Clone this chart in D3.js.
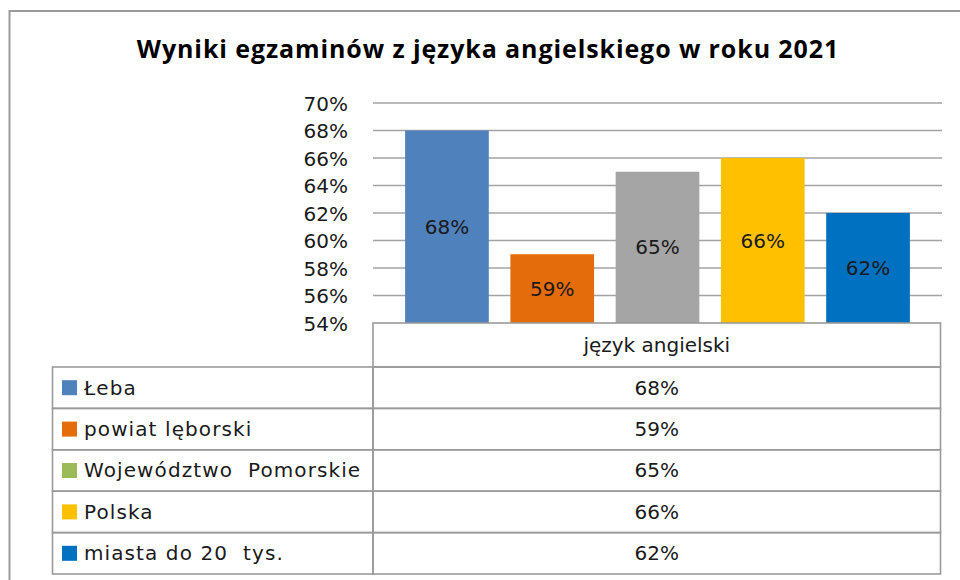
<!DOCTYPE html>
<html><head><meta charset="utf-8">
<script src="https://cdn.jsdelivr.net/npm/d3@7"></script>
<style>body{margin:0;background:#fff}svg{display:block}</style>
</head><body>
<script>
const title = "Wyniki egzaminów z języka angielskiego w roku 2021";
const category = "język angielski";
const seriesNames = ["Łeba", "powiat lęborski", "Województwo Pomorskie", "Polska", "miasta do 20  tys."];
const seriesLegendNames = ["Łeba", "powiat lęborski", "Województwo  Pomorskie", "Polska", "miasta do 20  tys."];
const values = [0.68, 0.59, 0.65, 0.66, 0.62];
const barColors = ["#4F81BD", "#E46C0A", "#A5A5A5", "#FFC000", "#0070C0"];
const legendColors = ["#4F81BD", "#E46C0A", "#9BBB59", "#FFC000", "#0070C0"];
const yTicks = [0.54, 0.56, 0.58, 0.60, 0.62, 0.64, 0.66, 0.68, 0.70];

const W = 960, H = 580;
const svg = d3.select("body").append("svg").attr("width", W).attr("height", H);
const font = "'DejaVu Sans', Verdana, sans-serif";

// outer chart border
svg.append("rect").attr("x", 9.5).attr("y", 11).attr("width", 1000).attr("height", 700)
  .attr("fill", "#fff").attr("stroke", "#9a9a9a").attr("stroke-width", 2);

svg.append("text").attr("x", 488).attr("y", 58).attr("text-anchor", "middle")
  .attr("font-family", "'Open Sans', Lato, sans-serif").attr("font-weight", "bold")
  .attr("font-size", 25).attr("letter-spacing", 0.9).attr("fill", "#000").text(title);

const plotL = 373, plotR = 942, plotT = 103, plotB = 323;
const y = d3.scaleLinear().domain([0.54, 0.70]).range([plotB, plotT]);
const x = d3.scaleBand().domain(seriesNames).range([plotL, plotR]).paddingInner(0.205).paddingOuter(0.305);

// gridlines
svg.append("g").selectAll("line").data(yTicks.slice(1)).join("line")
  .attr("x1", plotL).attr("x2", plotR)
  .attr("y1", d => y(d)).attr("y2", d => y(d))
  .attr("stroke", "#a3a3a3").attr("stroke-width", 1.5);

// y axis labels
const yAxis = d3.axisLeft(y).tickValues(yTicks).tickFormat(d3.format(".0%")).tickSize(0).tickPadding(0);
const ag = svg.append("g").attr("transform", `translate(348,0)`).call(yAxis);
ag.select(".domain").remove();
ag.selectAll("text").attr("font-family", font).attr("font-size", 20).attr("fill", "#1a1a1a").attr("dy", "0.35em");

// bars
svg.append("g").selectAll("rect").data(values).join("rect")
  .attr("x", (d, i) => x(seriesNames[i])).attr("width", x.bandwidth())
  .attr("y", d => y(d)).attr("height", d => plotB - y(d))
  .attr("fill", (d, i) => barColors[i]);

svg.append("g").selectAll("text").data(values).join("text")
  .attr("x", (d, i) => x(seriesNames[i]) + x.bandwidth() / 2)
  .attr("y", d => (y(d) + plotB) / 2).attr("dy", "0.35em")
  .attr("text-anchor", "middle").attr("font-family", font).attr("font-size", 20)
  .attr("fill", "#1a1a1a").text(d => d3.format(".0%")(d));

// data table
const tL = 52.5, tM = 373, tR = 940.5, headT = 323, headB = 367;
const rowH = (574 - headB) / seriesNames.length;
const tg = svg.append("g");
const lineStyle = s => s.attr("stroke", "#9a9a9a").attr("stroke-width", 1.6).attr("fill", "none");
// header cell
tg.append("rect").attr("x", tM).attr("y", headT).attr("width", tR - tM).attr("height", headB - headT).call(lineStyle);
tg.append("text").attr("x", (tM + tR) / 2).attr("y", (headT + headB) / 2).attr("dy", "0.35em")
  .attr("text-anchor", "middle").attr("font-family", font).attr("font-size", 20).attr("fill", "#1a1a1a").text(category);
// rows
const rows = tg.selectAll("g.row").data(values).join("g").attr("class", "row")
  .attr("transform", (d, i) => `translate(0,${headB + i * rowH})`);
rows.append("rect").attr("x", tL).attr("y", 0).attr("width", tM - tL).attr("height", rowH).call(lineStyle);
rows.append("rect").attr("x", tM).attr("y", 0).attr("width", tR - tM).attr("height", rowH).call(lineStyle);
rows.append("rect").attr("x", 62).attr("y", rowH / 2 - 7.5).attr("width", 15).attr("height", 15)
  .attr("fill", (d, i) => legendColors[i]);
rows.append("text").attr("x", 84).attr("y", rowH / 2).attr("dy", "0.35em")
  .attr("font-family", font).attr("font-size", 20).attr("letter-spacing", 1.1).attr("fill", "#1a1a1a")
  .attr("xml:space", "preserve").style("white-space", "pre")
  .text((d, i) => seriesLegendNames[i]);
rows.append("text").attr("x", (tM + tR) / 2).attr("y", rowH / 2).attr("dy", "0.35em")
  .attr("text-anchor", "middle").attr("font-family", font).attr("font-size", 20).attr("fill", "#1a1a1a")
  .text(d => d3.format(".0%")(d));
</script>
</body></html>
